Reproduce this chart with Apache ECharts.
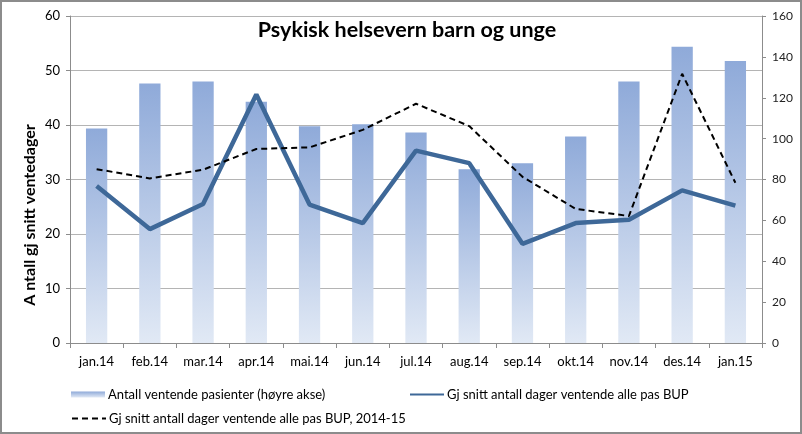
<!DOCTYPE html>
<html>
<head>
<meta charset="utf-8">
<script src="https://cdn.jsdelivr.net/npm/echarts@6/dist/echarts.min.js"></script>
<style>
  html, body { margin: 0; padding: 0; background: #fff; }
  #chart { width: 802px; height: 434px; box-sizing: border-box; border: 2px solid #8c8c8c; }
</style>
</head>
<body>
<div id="chart"></div>
<script>
// months on the x axis
var months = ["jan.14", "feb.14", "mar.14", "apr.14", "mai.14", "jun.14", "jul.14",
  "aug.14", "sep.14", "okt.14", "nov.14", "des.14", "jan.15"];
// waiting patients (right axis)
var patients = [105, 127, 128, 118, 106, 107, 103, 85, 88, 101, 128, 145, 138];
// avg waiting days BUP (left axis)
var avgDays = [28.8, 20.9, 25.5, 45.6, 25.4, 22.0, 35.3, 33.0, 18.2, 22.0, 22.6, 28.0, 25.2];
// avg waiting days BUP 2014-15 (left axis)
var avgDays1415 = [31.9, 30.2, 31.8, 35.6, 35.9, 39.1, 43.9, 39.8, 30.5, 24.6, 23.3, 49.4, 29.4];

var leftTicks = { min: 0, max: 60, interval: 10 };
var rightTicks = { min: 0, max: 160, interval: 20 };

var nameBar = "Antall ventende pasienter (høyre akse)";
var nameSolid = "Gj snitt antall dager ventende alle pas BUP";
var nameDash = "Gj snitt antall dager ventende alle pas BUP, 2014-15";

var font = "Lato";
var chart = echarts.init(document.getElementById("chart"));

var legendBase = {
  itemGap: 4,
  itemWidth: 34,
  itemHeight: 6,
  textStyle: { fontFamily: font, fontSize: 13, color: "#000", padding: [0, 0, 0, -2] }
};

chart.setOption({
  animation: false,
  textStyle: { fontFamily: font },
  title: {
    text: "Psykisk helsevern barn og unge",
    left: 400,
    top: 12,
    textAlign: "center",
    textStyle: { fontFamily: font, fontSize: 21.5, fontWeight: "bold", color: "#000" }
  },
  graphic: [{
    type: "text",
    x: 28,
    y: 213,
    rotation: Math.PI / 2,
    style: {
      text: "A ntall gj snitt ventedager",
      font: "bold 16px Lato",
      fill: "#000",
      align: "center",
      verticalAlign: "middle"
    }
  }],
  legend: [
    Object.assign({}, legendBase, { data: [{ name: nameBar, icon: "rect" }], left: 64, top: 381 }),
    Object.assign({}, legendBase, { data: [nameSolid], left: 402, top: 381, itemStyle: { opacity: 0 } }),
    Object.assign({}, legendBase, { data: [nameDash], left: 64, top: 405, itemStyle: { opacity: 0 } })
  ],
  grid: { left: 68, right: 38, top: 14, bottom: 89 },
  xAxis: {
    type: "category",
    data: months,
    axisLine: { lineStyle: { color: "#8c8c8c", width: 1 } },
    axisTick: { show: true, length: 5, lineStyle: { color: "#8c8c8c" } },
    axisLabel: { fontFamily: font, fontSize: 13, color: "#000", margin: 12 }
  },
  yAxis: [{
    type: "value",
    min: leftTicks.min,
    max: leftTicks.max,
    interval: leftTicks.interval,
    axisLine: { show: true, lineStyle: { color: "#8c8c8c" } },
    axisTick: { show: true, length: 4, lineStyle: { color: "#8c8c8c" } },
    axisLabel: { fontFamily: font, fontSize: 13, color: "#000", margin: 10 },
    splitLine: { lineStyle: { color: "#b4b4b4", width: 1 } }
  }, {
    type: "value",
    position: "right",
    min: rightTicks.min,
    max: rightTicks.max,
    interval: rightTicks.interval,
    axisLine: { show: true, lineStyle: { color: "#8c8c8c" } },
    axisTick: { show: true, length: 4, lineStyle: { color: "#8c8c8c" } },
    axisLabel: { fontFamily: font, fontSize: 12, color: "#222", margin: 10 },
    splitLine: { show: false }
  }],
  series: [{
    name: nameBar,
    type: "bar",
    yAxisIndex: 1,
    data: patients,
    barWidth: "40%",
    itemStyle: {
      color: new echarts.graphic.LinearGradient(0, 0, 0, 1, [
        { offset: 0, color: "#8faad9" },
        { offset: 1, color: "#e1e9f5" }
      ])
    }
  }, {
    name: nameSolid,
    type: "line",
    yAxisIndex: 0,
    data: avgDays,
    symbol: "none",
    lineStyle: { color: "#3e6898", width: 4.5 },
    itemStyle: { color: "#3e6898" },
    z: 3
  }, {
    name: nameDash,
    type: "line",
    yAxisIndex: 0,
    data: avgDays1415,
    symbol: "none",
    lineStyle: { color: "#000", width: 2, type: [6, 4] },
    itemStyle: { color: "#000" },
    z: 4
  }]
});
</script>
</body>
</html>
